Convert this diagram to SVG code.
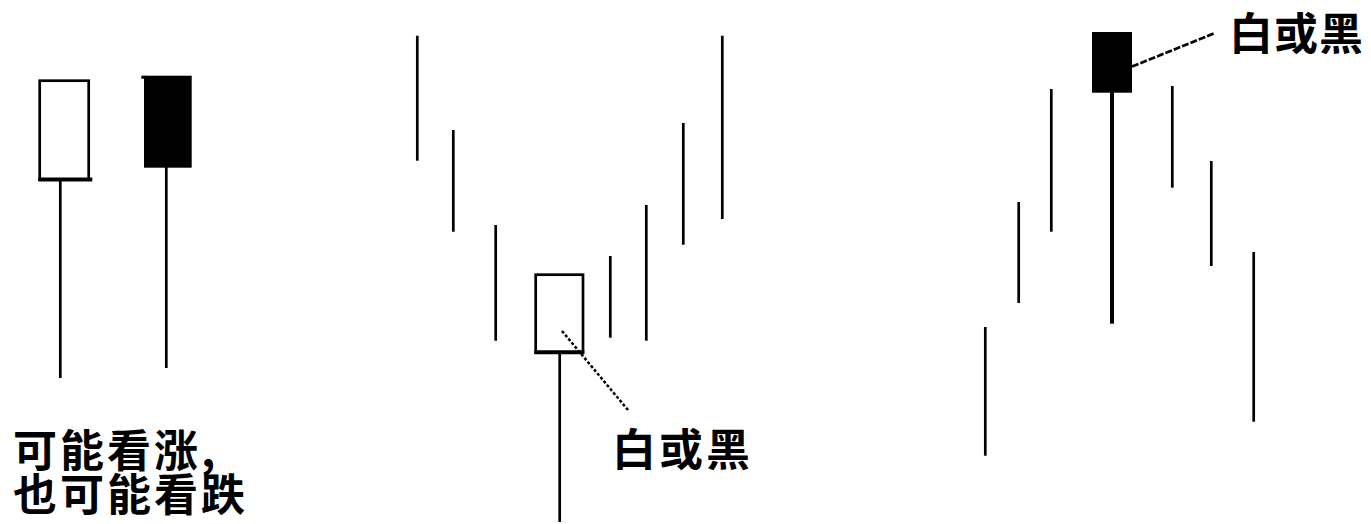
<svg xmlns="http://www.w3.org/2000/svg" width="1371" height="524" viewBox="0 0 1371 524">
<style>
.w{stroke:#000;stroke-width:2.7;fill:none}
.box{stroke:#000;stroke-width:2.7;fill:#fff}
.blk{fill:#000;stroke:none}
.dot{stroke:#000;stroke-width:2.5;fill:none;stroke-dasharray:3 2}
.dash{stroke:#000;stroke-width:2.7;fill:none;stroke-dasharray:7 2}
.t{font-family:"Noto Sans CJK SC","Noto Sans CJK JP",sans-serif;font-weight:700;font-size:44px;letter-spacing:3px;fill:#000}
</style>
<rect width="1371" height="524" fill="#fff"/>
<g id="left-white">
<line class="w" x1="60.3" y1="176" x2="60.3" y2="378"/>
<rect class="box" x="39.7" y="80.7" width="49" height="98.8"/>
<line x1="38.3" y1="179.5" x2="92.3" y2="179.5" stroke="#000" stroke-width="4"/>
</g>
<g id="left-black">
<line class="w" x1="166.3" y1="166" x2="166.3" y2="368"/>
<rect class="blk" x="144" y="75.7" width="47.7" height="92"/>
<rect class="blk" x="141.3" y="75.7" width="4" height="3"/>
</g>
<g id="left-label">
<text class="t" x="13" y="467">可能看涨,<tspan x="13" dy="44">也可能看跌</tspan></text>
</g>
<g id="middle-series">
<line class="w" x1="417.3" y1="35.7" x2="417.3" y2="160.7"/>
<line class="w" x1="453.3" y1="130" x2="453.3" y2="231.7"/>
<line class="w" x1="495.7" y1="225" x2="495.7" y2="340.7"/>
<line class="w" x1="610.3" y1="256" x2="610.3" y2="337.7"/>
<line class="w" x1="646.3" y1="205" x2="646.3" y2="340.7"/>
<line class="w" x1="683.3" y1="123" x2="683.3" y2="244.7"/>
<line class="w" x1="722.3" y1="35.7" x2="722.3" y2="219"/>
</g>
<g id="middle-candle">
<line class="w" x1="559.7" y1="352" x2="559.7" y2="522"/>
<rect class="box" x="535.7" y="274.7" width="47.3" height="77.6"/>
<line x1="534.3" y1="352.3" x2="584.3" y2="352.3" stroke="#000" stroke-width="4"/>
</g>
<g id="right-series">
<line class="w" x1="985.3" y1="327" x2="985.3" y2="455.7"/>
<line class="w" x1="1018.7" y1="202" x2="1018.7" y2="303"/>
<line class="w" x1="1051.3" y1="89" x2="1051.3" y2="231.7"/>
<line class="w" x1="1172.3" y1="86" x2="1172.3" y2="187.7"/>
<line class="w" x1="1211.3" y1="161" x2="1211.3" y2="266"/>
<line class="w" x1="1253.7" y1="252" x2="1253.7" y2="421.7"/>
</g>
<g id="right-candle">
<line x1="1112" y1="92" x2="1112" y2="323.7" stroke="#000" stroke-width="4"/>
<rect class="blk" x="1092" y="32" width="40" height="60.7"/>
</g>
<g id="connectors">
<line class="dot" x1="562" y1="331" x2="628" y2="410"/>
<line class="dash" x1="1132" y1="66.5" x2="1215" y2="33"/>
</g>
<g id="label-middle">
<text class="t" x="612" y="466">白或黑</text>
</g>
<g id="label-right">
<text class="t" x="1229" y="50" style="letter-spacing:1px">白或黑</text>
</g>
</svg>
